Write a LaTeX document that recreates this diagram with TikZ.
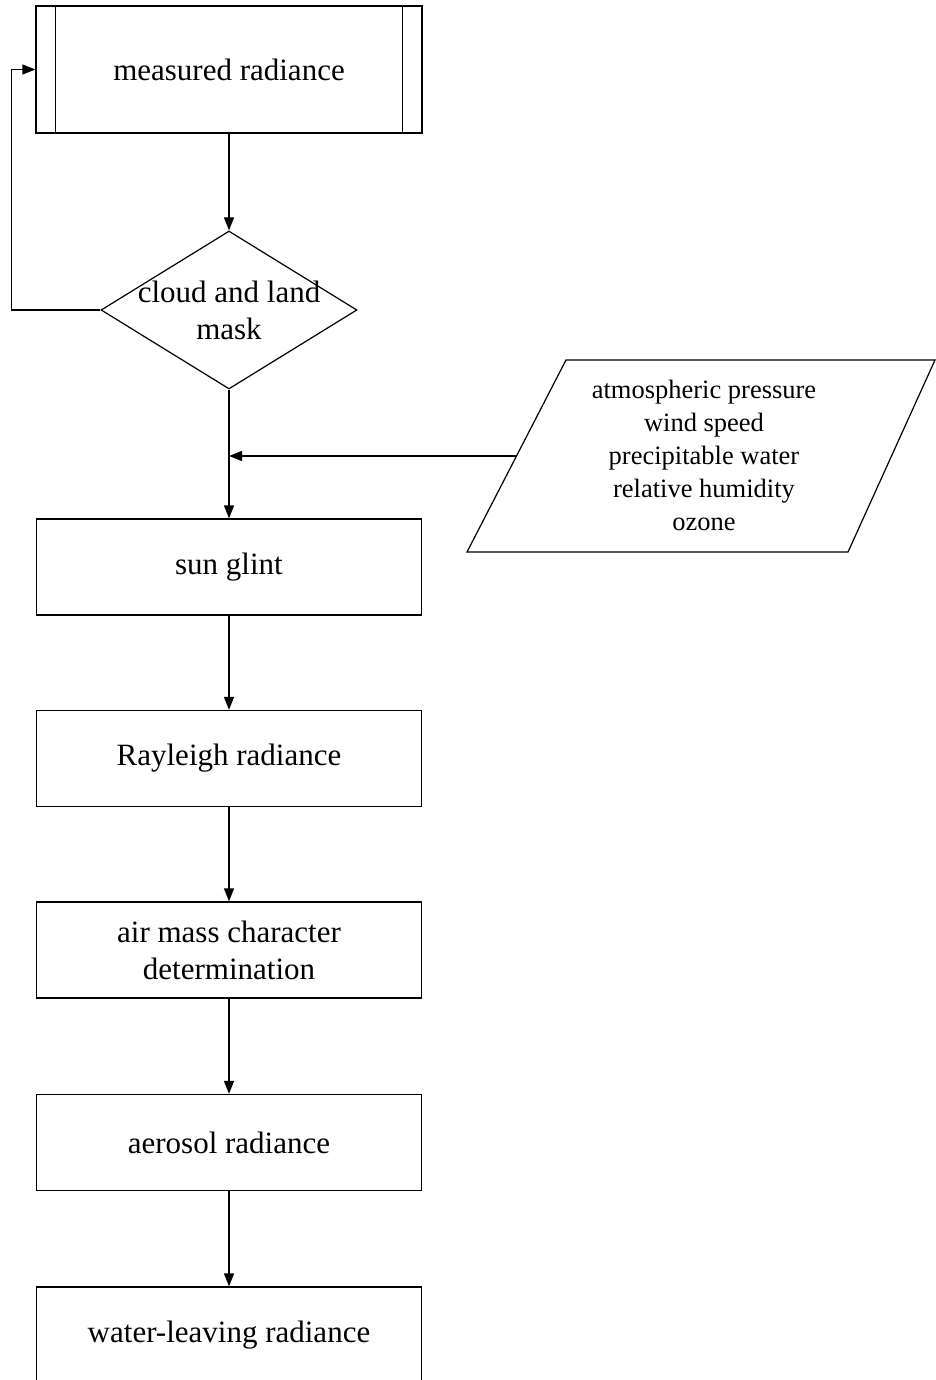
\documentclass[tikz,border=0pt]{standalone}
\usepackage{fontspec}
\setmainfont{Liberation Serif}
\usepackage{tikz}
\usetikzlibrary{shapes.geometric, arrows, arrows.meta}
\usetikzlibrary{calc,positioning}

\begin{document}
\begin{tikzpicture}[x=1pt, y=-1pt,
    box/.style={draw, line width=1.2pt, minimum width=385pt, minimum height=96pt,
                inner sep=0pt, align=center, font=\fontsize{31}{37}\selectfont},
    arr/.style={-{Triangle[length=13pt,width=10pt]}, line width=1.2pt}]

    \useasboundingbox (0,0) rectangle (935,1380);

    % Start
    \node[box, minimum width=386pt, minimum height=127pt] (measured) at (229,69.5) {measured radiance};
    \draw[line width=1.2pt] ($(measured.north west)+(20,0)$) -- ($(measured.south west)+(20,0)$);
    \draw[line width=1.2pt] ($(measured.north east)+(-20,0)$) -- ($(measured.south east)+(-20,0)$);

    % Mask
    \node[diamond, draw, line width=1.2pt, minimum width=256pt, minimum height=158pt, inner sep=0pt] (mask) at (229,310) {};
    \node[align=center, font=\fontsize{31}{37}\selectfont] (masktext) at (229,310) {cloud and land\\mask};

    % Input data
    \draw[line width=1.2pt] (566,360) -- (935,360) -- (848,552) -- (467,552) -- cycle;
    \node[align=center, font=\fontsize{26.5}{33}\selectfont] (params) at (704,455)
        {atmospheric pressure\\wind speed\\precipitable water\\relative humidity\\ozone};
    \coordinate (paramsin) at (516.5,456);
    \coordinate (join) at (229,456);

    % Steps
    \node[box] (glint) at (229,567) {sun glint};
    \node[box] (rayleigh) at (229,758.5) {Rayleigh radiance};
    \node[box] (airmass) at (229,950) {air mass character\\determination};
    \node[box] (aerosol) at (229,1142.5) {aerosol radiance};
    \node[box] (water) at (229,1335) {water-leaving radiance};

    % Arrows
    \draw[arr] (measured.south) -- (mask.north);
    \draw[arr] (mask.west) -- ++(-89,0) |- (measured.west);
    \draw[arr] (mask.south) -- (glint.north);
    \draw[arr] (paramsin) -- (join);
    \draw[arr] (glint) -- (rayleigh);
    \draw[arr] (rayleigh) -- (airmass);
    \draw[arr] (airmass) -- (aerosol);
    \draw[arr] (aerosol) -- (water);

\end{tikzpicture}
\end{document}
